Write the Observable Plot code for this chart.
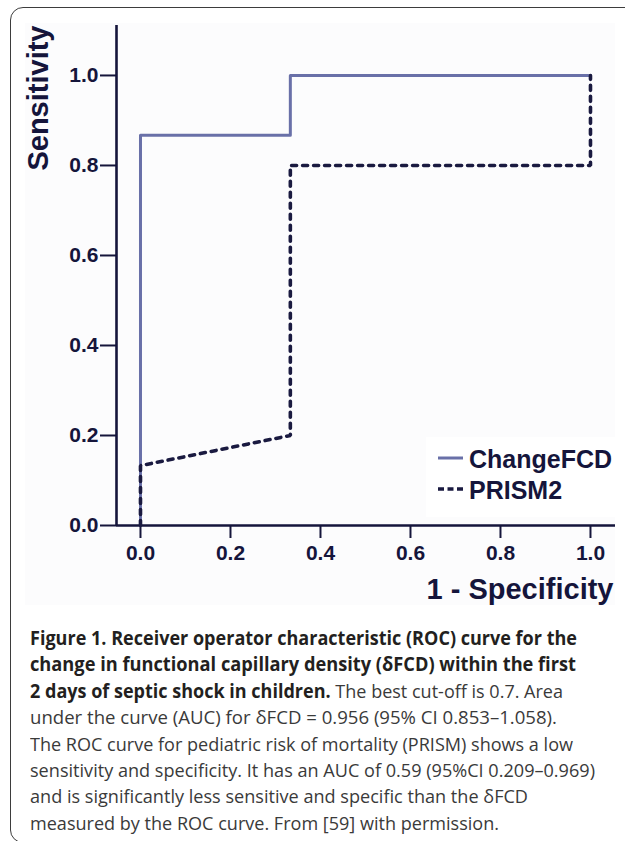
<!DOCTYPE html>
<html>
<head>
<meta charset="utf-8">
<script src="https://cdn.jsdelivr.net/npm/d3@7"></script>
<script src="https://cdn.jsdelivr.net/npm/@observablehq/plot@0.6"></script>
<style>
  html, body { margin: 0; padding: 0; background: #fff; width: 625px; height: 841px; overflow: hidden; }
  #frame { position: absolute; left: 10px; top: 7px; width: 660px; height: 836px; border: 1.5px solid #3d3d3d; border-radius: 13px; box-sizing: border-box; }
  #panel { position: absolute; left: 25px; top: 23px; width: 590px; height: 582px; background: #fcfcfd; }
  #chart { position: absolute; left: 0; top: 0; }
  #chart svg text { font-weight: 700; }
  #legend { position: absolute; left: 426px; top: 437px; }
  #caption { position: absolute; left: 30px; top: 0; font-family: "Open Sans", "Noto Sans", sans-serif; font-size: 19px; }
  .cl { position: absolute; left: 0; white-space: nowrap; line-height: 26px; color: #3a3a3a; transform-origin: 0 50%; }
  .cl b { color: #231f20; font-weight: 700; }
</style>
</head>
<body>
<div id="frame"></div>
<div id="panel"></div>
<div id="chart"></div>
<div id="legend"></div>
<div id="caption"></div>
<script>
// ---- data ----
const seriesNames = ["ChangeFCD", "PRISM2"];
const changeFPR = [0, 0, 0.333, 0.333, 1.0];
const changeTPR = [0, 0.867, 0.867, 1.0, 1.0];
const prismFPR = [0, 0, 0.333, 0.333, 1.0, 1.0];
const prismTPR = [0, 0.133, 0.2, 0.8, 0.8, 1.0];
const xTicks = [0, 0.2, 0.4, 0.6, 0.8, 1.0];
const yTicks = [0, 0.2, 0.4, 0.6, 0.8, 1.0];
const xTitle = "1 - Specificity";
const yTitle = "Sensitivity";

const colorChange = "#6970a8";
const colorPrism = "#1a1a40";
const ink = "#15153b";

const changeData = changeFPR.map((x, i) => ({x, y: changeTPR[i]}));
const prismData = prismFPR.map((x, i) => ({x, y: prismTPR[i]}));

const xDomain = [-0.0533, 1.0556];
const yDomain = [0, 1.111];

const chart = Plot.plot({
  width: 625,
  height: 620,
  marginLeft: 116,
  marginRight: 10,
  marginTop: 25,
  marginBottom: 95,
  x: {domain: xDomain},
  y: {domain: yDomain},
  style: {fontFamily: "'Liberation Sans', Arial, sans-serif", color: ink, background: "transparent", overflow: "visible"},
  marks: [
    Plot.axisY({ticks: yTicks, tickSize: 16, tickPadding: 2, tickFormat: d3.format(".1f"), fontSize: 21, strokeWidth: 2, stroke: ink, fill: ink, label: null}),
    Plot.axisX({ticks: xTicks, tickSize: 13, tickPadding: 7, tickFormat: d3.format(".1f"), fontSize: 21, strokeWidth: 2, stroke: ink, fill: ink, label: null}),
    Plot.ruleX([xDomain[0]], {stroke: ink, strokeWidth: 2.6}),
    Plot.ruleY([0], {stroke: ink, strokeWidth: 2.6}),
    Plot.line(changeData, {x: "x", y: "y", stroke: colorChange, strokeWidth: 3}),
    Plot.line(prismData, {x: "x", y: "y", stroke: colorPrism, strokeWidth: 3.6, strokeDasharray: "5,6", strokeLinejoin: "miter"}),
    Plot.text([xTitle], {frameAnchor: "bottom-right", textAnchor: "end", lineAnchor: "middle", dx: -2, dy: 64, fontSize: 29, fill: ink}),
    Plot.text([yTitle], {frameAnchor: "top-left", textAnchor: "end", lineAnchor: "middle", rotate: -90, dx: -78, dy: 0, fontSize: 29, fill: ink})
  ]
});
document.getElementById("chart").appendChild(chart);

// ---- legend ----
const lg = d3.select("#legend").append("svg").attr("width", 189).attr("height", 80)
  .style("background", "#fff").style("font-family", "'Liberation Sans', Arial, sans-serif");
const items = [
  {name: seriesNames[0], color: colorChange, dash: null, w: 3},
  {name: seriesNames[1], color: colorPrism, dash: "6,3.5", w: 3.6}
];
items.forEach((it, i) => {
  const cy = 21 + i * 31;
  lg.append("line").attr("x1", 12).attr("x2", 37).attr("y1", cy).attr("y2", cy)
    .attr("stroke", it.color).attr("stroke-width", it.w).attr("stroke-dasharray", it.dash);
  lg.append("text").attr("x", 43).attr("y", cy + 10).attr("font-size", 25).attr("font-weight", 700)
    .attr("fill", ink).text(it.name);
});

// ---- caption ----
const captionLines = [
  ["Figure 1. Receiver operator characteristic (ROC) curve for the", ""],
  ["change in functional capillary density (δFCD) within the first", ""],
  ["2 days of septic shock in children.", " The best cut-off is 0.7. Area"],
  ["", "under the curve (AUC) for δFCD = 0.956 (95% CI 0.853–1.058)."],
  ["", "The ROC curve for pediatric risk of mortality (PRISM) shows a low"],
  ["", "sensitivity and specificity. It has an AUC of 0.59 (95%CI 0.209–0.969)"],
  ["", "and is significantly less sensitive and specific than the δFCD"],
  ["", "measured by the ROC curve. From [59] with permission."]
];
const captionRight = [577, 576, 563, 557, 573, 595, 528, 499];
const cap = document.getElementById("caption");
const divs = captionLines.map((ln, i) => {
  const d = document.createElement("div");
  d.className = "cl";
  d.style.top = (625 + i * 26.4) + "px";
  if (ln[0]) { const b = document.createElement("b"); b.textContent = ln[0]; d.appendChild(b); }
  if (ln[1]) d.appendChild(document.createTextNode(ln[1]));
  cap.appendChild(d);
  return d;
});
function fit() {
  divs.forEach((d, i) => {
    d.style.transform = "none";
    const w = d.getBoundingClientRect().width;
    const target = captionRight[i] - 30;
    d.style.transform = `scaleX(${target / w})`;
  });
}
fit();
if (document.fonts && document.fonts.ready) document.fonts.ready.then(fit);
</script>
</body>
</html>
